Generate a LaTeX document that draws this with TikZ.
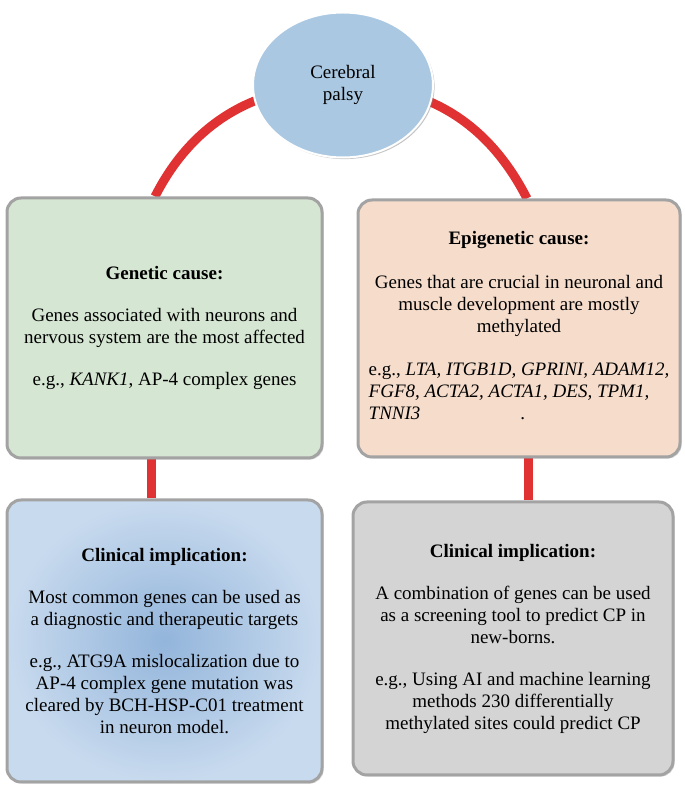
\documentclass[tikz,border=0pt]{standalone}
\usepackage{fontspec}
\setmainfont{Liberation Serif}
\usepackage{tikz}
\usetikzlibrary{shapes.geometric,shadows,backgrounds}
\definecolor{palsyBlue}{HTML}{AAC8E2}
\definecolor{genGreen}{HTML}{D5E6D2}
\definecolor{epiPeach}{HTML}{F5DCCB}
\definecolor{clinGray}{HTML}{D4D4D4}
\definecolor{clinBlueIn}{HTML}{93B5DB}
\definecolor{clinBlueOut}{HTML}{C8DAEE}
\definecolor{boxBorder}{HTML}{A3A3A3}
\definecolor{linkRed}{HTML}{E03232}

\begin{document}
\begin{tikzpicture}[
    x=0.5pt, y=0.5pt,
    font=\fontsize{9.5}{11}\selectfont,
    cause/.style={rectangle, draw=boxBorder, line width=1.5pt, rounded corners=7pt, align=center, inner sep=0pt, drop shadow={opacity=0.35, shadow xshift=0.8pt, shadow yshift=-0.8pt}},
    link/.style={draw=linkRed, line width=4.5pt}
]
\useasboundingbox (0,0) rectangle (685,788);

\node[ellipse, fill=palsyBlue, draw=white, line width=1pt, minimum width=90pt, minimum height=72.5pt, align=center, drop shadow={opacity=0.45, shadow xshift=0.8pt, shadow yshift=-0.8pt}] (palsy) at (343,703) {Cerebral\\palsy};

\node[cause, fill=genGreen, minimum width=157.5pt, minimum height=130pt] (genetic) at (164.5,460) {\textbf{Genetic cause:}\\[10pt] Genes associated with neurons and\\ nervous system are the most affected\\[10pt] e.g., \textit{KANK1}, AP-4 complex genes};
\node[cause, fill=epiPeach, minimum width=161pt, minimum height=128.5pt] (epigenetic) at (519,459.5) {\textbf{Epigenetic cause:}\\[11pt] Genes that are crucial in neuronal and\\ muscle development are mostly\\ methylated\\[11pt] \begin{tabular}{@{}l@{}}e.g., \textit{LTA, ITGB1D, GPRINI, ADAM12,}\\ \textit{FGF8, ACTA2, ACTA1, DES, TPM1,}\\ \textit{TNNI3}\hspace{50pt}.\end{tabular}};

\node[cause, shading=radial, inner color=clinBlueIn, outer color=clinBlueOut, minimum width=157.5pt, minimum height=141pt] (clinleft) at (164.5,147) {\textbf{Clinical implication:}\\[10pt] Most common genes can be used as\\ a diagnostic and therapeutic targets\\[10pt] e.g., ATG9A mislocalization due to\\ AP-4 complex gene mutation was\\ cleared by BCH-HSP-C01 treatment\\ in neuron model.};
\node[cause, fill=clinGray, minimum width=160pt, minimum height=136.5pt] (clinright) at (513,149.5) {\textbf{Clinical implication:}\\[10pt] A combination of genes can be used\\ as a screening tool to predict CP in\\ new-borns.\\[10pt] e.g., Using AI and machine learning\\ methods 230 differentially\\ methylated sites could predict CP};

\begin{pgfonlayer}{background}
\draw[link] ([xshift=-4.75pt]genetic.north) to[out=63, in=180] (palsy.center);
\draw[link] (palsy.center) to[out=0, in=117] ([xshift=4pt]epigenetic.north);
\draw[link] ([xshift=-6.75pt]genetic.south) -- ([xshift=-6.75pt]clinleft.north);
\draw[link] ([xshift=4.5pt]epigenetic.south) -- ([xshift=7.5pt]clinright.north);
\end{pgfonlayer}

\end{tikzpicture}
\end{document}
